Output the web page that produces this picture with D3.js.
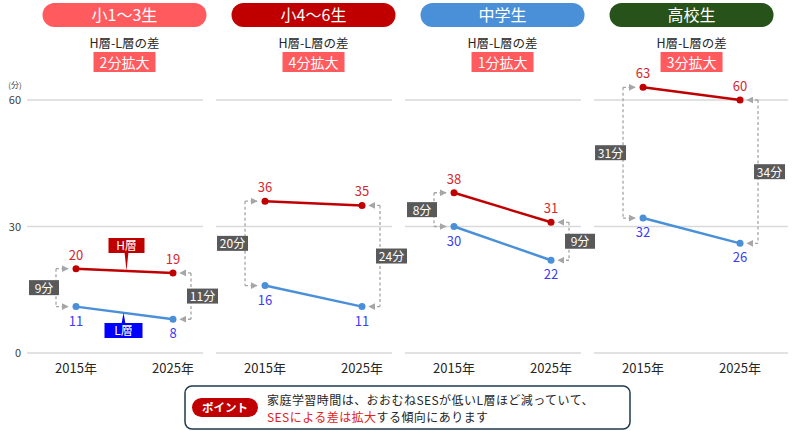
<!DOCTYPE html>
<html lang="ja">
<head>
  <meta charset="utf-8"/>
  <title>家庭学習時間 H層-L層の差</title>
  <script src="https://d3js.org/d3.v7.min.js"></script>
  <style>
    body { margin: 0; background: #fff; }
    svg { font-family: "Noto Sans CJK JP", "Noto Sans", sans-serif; display: block; }
  </style>
</head>
<body>
<div id="chart"></div>
<script>
// data
var panels = ["小1～3生", "小4～6生", "中学生", "高校生"];
var panelColors = ["#FF5B5F", "#C00000", "#4A90D9", "#27531A"];
var years = ["2015年", "2025年"];
var high2015 = [20, 36, 38, 63];
var high2025 = [19, 35, 31, 60];
var low2015 = [11, 16, 30, 32];
var low2025 = [8, 11, 22, 26];
var yTicks = [0, 30, 60];

var width = 800, height = 431;
var redLine = "#C00000", blueLine = "#4A90D9";
var redText = "#D7262C", blueText = "#3C3CF5";
var dashGray = "#A6A6A6";

var svg = d3.select("#chart").append("svg")
  .attr("width", width).attr("height", height);

var defs = svg.append("defs");
["arrR", "arrL"].forEach(function(id){
  defs.append("marker")
    .attr("id", id)
    .attr("viewBox", "0 0 10 10")
    .attr("refX", 9).attr("refY", 5)
    .attr("markerWidth", 7).attr("markerHeight", 7)
    .attr("markerUnits", "userSpaceOnUse")
    .attr("orient", "auto")
    .append("path")
    .attr("d", "M0,0 L10,5 L0,10 Z")
    .attr("fill", dashGray);
});

var xPanel = d3.scaleBand().domain(panels).range([27, 770]).paddingInner(0.069);
var xYear = d3.scalePoint().domain(years).range([49, 146]);
var y = d3.scaleLinear().domain([0, 60]).range([353, 100]);

// y axis labels
svg.append("text").attr("x", 15).attr("y", 88)
  .attr("text-anchor", "middle").attr("font-size", 8).attr("fill", "#404040")
  .text("(分)");
svg.selectAll(".ytick").data(yTicks).enter().append("text")
  .attr("class", "ytick")
  .attr("x", 21).attr("y", function(d){ return y(d) + 4; })
  .attr("text-anchor", "end").attr("font-size", 11).attr("fill", "#404040")
  .text(function(d){ return d; });

panels.forEach(function(name, i){
  var x0 = xPanel(name);
  var g = svg.append("g").attr("transform", "translate(" + x0 + ",0)");
  var xa = xYear(years[0]), xb = xYear(years[1]);
  var cx = (xa + xb) / 2;
  var gridEnd = xPanel.bandwidth() + (i === panels.length - 1 ? 18 : 0);

  // gridlines
  g.selectAll(".grid").data(yTicks).enter().append("line")
    .attr("x1", 0).attr("x2", gridEnd)
    .attr("y1", function(d){ return y(d); }).attr("y2", function(d){ return y(d); })
    .attr("stroke", "#D9D9D9").attr("stroke-width", 1.3);

  // header pill
  g.append("rect").attr("x", cx - 82).attr("y", 3).attr("width", 164).attr("height", 24)
    .attr("rx", 12).attr("fill", panelColors[i]);
  g.append("text").attr("x", cx).attr("y", 21).attr("text-anchor", "middle")
    .attr("font-size", 16).attr("fill", "#fff").text(name);

  g.append("text").attr("x", cx).attr("y", 48).attr("text-anchor", "middle")
    .attr("font-size", 12.5).attr("fill", "#262626").text("H層-L層の差");

  var gapA = high2015[i] - low2015[i];
  var gapB = high2025[i] - low2025[i];
  g.append("rect").attr("x", cx - 31).attr("y", 52).attr("width", 62).attr("height", 20)
    .attr("fill", "#FF5B5F");
  g.append("text").attr("x", cx).attr("y", 68).attr("text-anchor", "middle")
    .attr("font-size", 14).attr("fill", "#fff").text((gapB - gapA) + "分拡大");

  // brackets
  var bl = xa - 20, br = xb + 18;
  var dash = "3,2.5";
  g.append("line").attr("x1", bl).attr("x2", bl)
    .attr("y1", y(high2015[i])).attr("y2", y(low2015[i]))
    .attr("stroke", dashGray).attr("stroke-width", 1.3).attr("stroke-dasharray", dash);
  [high2015[i], low2015[i]].forEach(function(v){
    g.append("line").attr("x1", bl).attr("x2", xa - 8)
      .attr("y1", y(v)).attr("y2", y(v))
      .attr("stroke", dashGray).attr("stroke-width", 1.3).attr("stroke-dasharray", dash)
      .attr("marker-end", "url(#arrR)");
  });
  g.append("line").attr("x1", br).attr("x2", br)
    .attr("y1", y(high2025[i])).attr("y2", y(low2025[i]))
    .attr("stroke", dashGray).attr("stroke-width", 1.3).attr("stroke-dasharray", dash);
  [high2025[i], low2025[i]].forEach(function(v){
    g.append("line").attr("x1", br).attr("x2", xb + 7)
      .attr("y1", y(v)).attr("y2", y(v))
      .attr("stroke", dashGray).attr("stroke-width", 1.3).attr("stroke-dasharray", dash)
      .attr("marker-end", "url(#arrL)");
  });

  // gap labels
  function gapBox(xc, v1, v2, txt, anchorRight){
    var w = txt.length > 2 ? 31 : 30;
    var ym = (y(v1) + y(v2)) / 2;
    var xl = anchorRight ? xc + 3 - w : xc - 4;
    g.append("rect").attr("x", xl).attr("y", ym - 7.5).attr("width", w).attr("height", 15)
      .attr("fill", "#595959");
    g.append("text").attr("x", xl + w / 2).attr("y", ym + 5).attr("text-anchor", "middle")
      .attr("font-size", 12).attr("fill", "#fff").text(txt);
  }
  gapBox(bl, high2015[i], low2015[i], gapA + "分", true);
  gapBox(br, high2025[i], low2025[i], gapB + "分", false);

  // lines and points
  var series = [
    { a: high2015[i], b: high2025[i], line: redLine, text: redText, dy: -9 },
    { a: low2015[i], b: low2025[i], line: blueLine, text: blueText, dy: 19 }
  ];
  series.forEach(function(s){
    g.append("line").attr("x1", xa).attr("x2", xb)
      .attr("y1", y(s.a)).attr("y2", y(s.b))
      .attr("stroke", s.line).attr("stroke-width", 2.5);
    [[xa, s.a], [xb, s.b]].forEach(function(p){
      g.append("circle").attr("cx", p[0]).attr("cy", y(p[1])).attr("r", 3.5).attr("fill", s.line);
      g.append("text").attr("x", p[0]).attr("y", y(p[1]) + s.dy)
        .attr("text-anchor", "middle").attr("font-size", 13).attr("fill", s.text)
        .text(p[1]);
    });
  });

  // legend tags on first panel
  if (i === 0) {
    var lx = cx + 2;
    var hy = y(high2015[i]) + (y(high2025[i]) - y(high2015[i])) * (lx - xa) / (xb - xa);
    g.append("path").attr("d", "M" + (lx - 2) + ",252 L" + lx + "," + hy + " L" + (lx + 2) + ",252 Z")
      .attr("fill", redLine);
    g.append("rect").attr("x", lx - 18).attr("y", 238).attr("width", 36).attr("height", 15)
      .attr("fill", redLine);
    g.append("text").attr("x", lx).attr("y", 250).attr("text-anchor", "middle")
      .attr("font-size", 12).attr("fill", "#fff").text("H層");

    var lyx = cx - 1;
    var ly = y(low2015[i]) + (y(low2025[i]) - y(low2015[i])) * (lyx - xa) / (xb - xa);
    g.append("path").attr("d", "M" + (lyx - 2) + ",324 L" + lyx + "," + ly + " L" + (lyx + 2) + ",324 Z")
      .attr("fill", "#0000FF");
    g.append("rect").attr("x", lyx - 19).attr("y", 323).attr("width", 38).attr("height", 15)
      .attr("fill", "#0000FF");
    g.append("text").attr("x", lyx).attr("y", 335).attr("text-anchor", "middle")
      .attr("font-size", 12).attr("fill", "#fff").text("L層");
  }

  // x labels
  years.forEach(function(yr){
    g.append("text").attr("x", xYear(yr)).attr("y", 373).attr("text-anchor", "middle")
      .attr("font-size", 13).attr("fill", "#262626").text(yr);
  });
});

// footer note
var note = svg.append("g");
note.append("rect").attr("x", 185).attr("y", 386).attr("width", 445).attr("height", 43)
  .attr("rx", 7).attr("fill", "#fff").attr("stroke", "#1F3A4D").attr("stroke-width", 1.5);
note.append("rect").attr("x", 192).attr("y", 398).attr("width", 66).attr("height", 19)
  .attr("rx", 9.5).attr("fill", "#C00000");
note.append("text").attr("x", 225).attr("y", 412).attr("text-anchor", "middle")
  .attr("font-size", 11.5).attr("font-weight", "bold").attr("fill", "#fff").text("ポイント");
note.append("text").attr("x", 267).attr("y", 404.5).attr("font-size", 12)
  .attr("letter-spacing", 0.45).attr("fill", "#262626")
  .text("家庭学習時間は、おおむねSESが低いL層ほど減っていて、");
var l2 = note.append("text").attr("x", 267).attr("y", 422).attr("font-size", 12)
  .attr("letter-spacing", 0.45).attr("fill", "#262626");
l2.append("tspan").attr("fill", "#E3211C").text("SESによる差は拡大");
l2.append("tspan").text("する傾向にあります");
</script>
</body>
</html>
